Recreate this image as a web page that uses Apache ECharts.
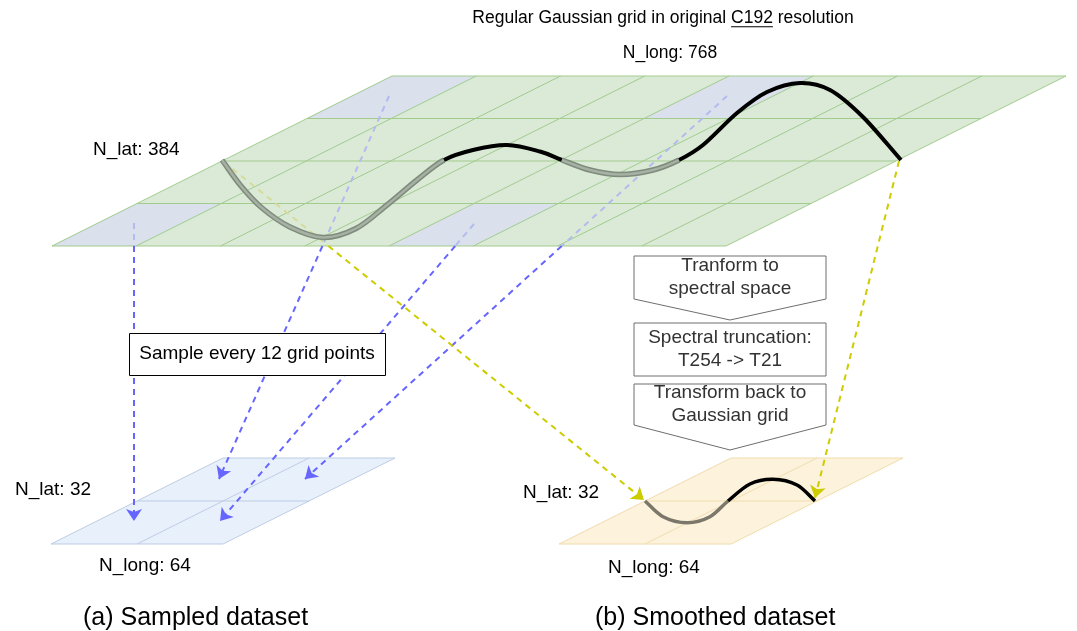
<!DOCTYPE html>
<html><head><meta charset="utf-8">
<script src="https://cdn.jsdelivr.net/npm/echarts@6/dist/echarts.min.js"></script>
<style>html,body{margin:0;padding:0;background:#fff}#c{width:1077px;height:631px}</style>
</head><body><div id="c"></div>
<script>
// ---------------- data ----------------
// curve on the original grid; break indices = where it crosses the middle grid line
const bigCurve = [[222,160],[241,186],[262,208],[290,227],[323,237.5],[356,228.5],[387,205],[417,180],[444,160],
  [473,150],[507,145],[540,151.5],[562,160],
  [590,170],[620,174.5],[653,170],[679,160],
  [703,145],[737,113],[767,92],[800,83],[830,90],[863,117],[901,160]];
const bigCurveBreaks = [0, 8, 12, 16, 23];
// curve on the smoothed grid
const smallCurve = [[645,501],[663,516.7],[687,522.7],[710,516.7],[728,501],[750,484],[773,479.3],[797,485],[815,501]];
const smallCurveBreaks = [0, 4, 8];
// arrows: [from, to]
const blueArrows = [[[134,223],[134,521]], [[389,96],[219,479]], [[474,224],[220,521]], [[727,96],[305,479]]];
const yellowArrows = [[[224,162],[644,500]], [[899,161],[815,498]]];
// highlighted (sampled) cells of the original grid: [row from top, column]
const blueCells = [[0,0],[0,4],[3,0],[3,4]];
// processing steps
const flowSteps = ['Tranform to\nspectral space', 'Spectral truncation:\nT254 -> T21', 'Transform back to\nGaussian grid'];
const sampleNote = 'Sample every 12 grid points';
const labelTexts = ['Regular Gaussian grid in original C192 resolution', 'N_long: 768', 'N_lat: 384',
  'N_lat: 32', 'N_long: 64', '(a) Sampled dataset', 'N_lat: 32', 'N_long: 64', '(b) Smoothed dataset'];
const underlinedWord = 'C192';

// ---------------- layout ----------------
const bigGrid = {x0:52, y0:246, w:674, h:170, slant:340, cols:8, rows:4,
  fill:'#dbead6', line:'#a2cb8e', cell:'#dae0ec'};
const gridA = {x0:51, y0:544, w:172, h:86, slant:172, cols:2, rows:2, fill:'#e8f0fb', line:'#bccde4'};
const gridB = {x0:559, y0:544, w:172, h:86, slant:172, cols:2, rows:2, fill:'#fdf3dc', line:'#f0dcae'};
const flowShapes = [[634,256,826,299,320],[634,323,826,376,376],[634,384,826,425,450]];
const sampleBox = [129,333,385,375];
const labelAnchors = [[663,18],[670,53],[93,150],[15,490],[99,566],[83,618],[523,493],[608,568],[595,618]];
const labelAligns = ['center','center','left','left','left','left','left','left','left'];
const labelSizes = [17.5,17.5,19,19,19,25,19,19,25];
const FONT = '"Liberation Sans", Arial, Helvetica, sans-serif';

function gridPt(g,u,v){ return [g.x0 + u*g.w/g.cols + v/g.rows*g.slant, g.y0 - v/g.rows*g.h]; }
function insideGrid(g,p){
  if (p[1] > g.y0 || p[1] < g.y0 - g.h) return false;
  const v = (g.y0 - p[1]) / g.h;
  const left = g.x0 + v*g.slant;
  return p[0] >= left && p[0] <= left + g.w;
}
function exitPoint(g,a,b){
  if (!insideGrid(g,a)) return null;
  let lo=0, hi=1;
  for (let k=0;k<40;k++){ const m=(lo+hi)/2; const p=[a[0]+(b[0]-a[0])*m, a[1]+(b[1]-a[1])*m]; if (insideGrid(g,p)) lo=m; else hi=m; }
  return [a[0]+(b[0]-a[0])*lo, a[1]+(b[1]-a[1])*lo];
}

function gridSeries(g, cells){
  return {
    type:'custom', silent:true, animation:false, clip:false, data:[[0,0]],
    renderItem(params, api){
      const C = p => api.coord(p);
      const ch = [];
      const corners = [gridPt(g,0,0),gridPt(g,g.cols,0),gridPt(g,g.cols,g.rows),gridPt(g,0,g.rows)].map(C);
      ch.push({type:'polygon', shape:{points:corners}, style:{fill:g.fill}});
      (cells||[]).forEach(([r,c])=>{
        const vb = g.rows-1-r, vt = g.rows-r;
        const pts = [gridPt(g,c,vb),gridPt(g,c+1,vb),gridPt(g,c+1,vt),gridPt(g,c,vt)].map(C);
        ch.push({type:'polygon', shape:{points:pts}, style:{fill:g.cell}});
      });
      for (let u=1; u<g.cols; u++){ const a=C(gridPt(g,u,0)), b=C(gridPt(g,u,g.rows));
        ch.push({type:'line', shape:{x1:a[0],y1:a[1],x2:b[0],y2:b[1]}, style:{stroke:g.line, lineWidth:1}}); }
      for (let v=1; v<g.rows; v++){ const a=C(gridPt(g,0,v)), b=C(gridPt(g,g.cols,v));
        ch.push({type:'line', shape:{x1:a[0],y1:a[1],x2:b[0],y2:b[1]}, style:{stroke:g.line, lineWidth:1}}); }
      ch.push({type:'polygon', shape:{points:corners}, style:{fill:null, stroke:g.line, lineWidth:1}});
      return {type:'group', children:ch};
    }
  };
}

function arrowSeries(list, vivid, faint){
  const faintData = [], vividData = [];
  list.forEach(([a,b])=>{
    const e = exitPoint(bigGrid,a,b);
    if (e){ faintData.push({coords:[a,e]}); vividData.push({coords:[e,b]}); }
    else vividData.push({coords:[a,b]});
  });
  return [
    {type:'lines', coordinateSystem:'cartesian2d', silent:true, animation:false, symbol:['none','none'],
      lineStyle:{color:faint, width:2, type:[6,5], opacity:1}, data:faintData},
    {type:'lines', coordinateSystem:'cartesian2d', silent:true, animation:false, symbol:['none','arrow'], symbolSize:12,
      lineStyle:{color:vivid, width:2, type:[6,5], opacity:1}, data:vividData}
  ];
}

// smooth curve through the read points (Catmull-Rom -> cubic Bezier, in pixel space),
// split into alternating "behind the grid" (grey) and "in front" (black) parts
function curveSeries(pts, breaks, styles){
  return {
    type:'custom', silent:true, animation:false, clip:false, data:[[0,0]],
    renderItem(params, api){
      const P = pts.map(p=>api.coord(p));
      const n = P.length;
      const T = P.map((p,i)=>{
        const a = P[Math.max(0,i-1)], b = P[Math.min(n-1,i+1)];
        const f = (i===0||i===n-1) ? 1 : 0.5;
        return [(b[0]-a[0])*f, (b[1]-a[1])*f];
      });
      const ch = [];
      for (let k=0;k<breaks.length-1;k++){
        let d = 'M'+P[breaks[k]][0]+' '+P[breaks[k]][1];
        for (let i=breaks[k]; i<breaks[k+1]; i++){
          const c1=[P[i][0]+T[i][0]/3, P[i][1]+T[i][1]/3];
          const c2=[P[i+1][0]-T[i+1][0]/3, P[i+1][1]-T[i+1][1]/3];
          d += ' C'+c1[0]+' '+c1[1]+' '+c2[0]+' '+c2[1]+' '+P[i+1][0]+' '+P[i+1][1];
        }
        styles[k%2].forEach(st=>{
          ch.push({type:'path', shape:{pathData:d}, style:{fill:null, stroke:st.color, lineWidth:st.width, lineCap:'butt', lineJoin:'round'}});
        });
      }
      return {type:'group', children:ch};
    }
  };
}

const measureCtx = document.createElement('canvas').getContext('2d');

const series = [
  gridSeries(bigGrid, blueCells),
  gridSeries(gridA),
  gridSeries(gridB),
  ...arrowSeries(blueArrows, '#6666ff', '#b3bbef'),
  ...arrowSeries(yellowArrows, '#cccc00', '#d6db9c'),
  curveSeries(bigCurve, bigCurveBreaks, [
    [{color:'#7e8b7d', width:5.5},{color:'#a6b1a4', width:2.5}],
    [{color:'#000000', width:4}]
  ]),
  curveSeries(smallCurve, smallCurveBreaks, [
    [{color:'#7b776a', width:3.5}],
    [{color:'#000000', width:3.5}]
  ]),
  {type:'custom', silent:true, animation:false, clip:false, data:flowSteps.map((s,i)=>[i,0]),
    renderItem(params, api){
      const i = params.dataIndex, s = flowShapes[i];
      const C = p => api.coord(p);
      const mid = (s[0]+s[2])/2;
      const pts = [[s[0],s[1]],[s[2],s[1]],[s[2],s[3]],[mid,s[4]],[s[0],s[3]]].map(C);
      const tc = C([mid,(s[1]+s[3])/2]);
      return {type:'group', children:[
        {type:'polygon', shape:{points:pts}, style:{fill:'#ffffff', stroke:'#6e6e6e', lineWidth:1}},
        {type:'text', x:tc[0], y:tc[1], style:{text:flowSteps[i], font:'19px '+FONT, fill:'#333333',
          align:'center', verticalAlign:'middle', lineHeight:23}}
      ]};
    }},
  {type:'custom', silent:true, animation:false, clip:false, data:[[0,0]],
    renderItem(params, api){
      const a = api.coord([sampleBox[0],sampleBox[1]]), b = api.coord([sampleBox[2],sampleBox[3]]);
      return {type:'group', children:[
        {type:'rect', shape:{x:a[0]+0.5,y:a[1]+0.5,width:b[0]-a[0],height:b[1]-a[1]}, style:{fill:'#fff', stroke:'#000', lineWidth:1}},
        {type:'text', x:(a[0]+b[0])/2, y:(a[1]+b[1])/2, style:{text:sampleNote, font:'19px '+FONT, fill:'#000',
          align:'center', verticalAlign:'middle'}}
      ]};
    }},
  {type:'custom', silent:true, animation:false, clip:false, data:labelTexts.map((t,i)=>[i,0]),
    renderItem(params, api){
      const i = params.dataIndex;
      const p = api.coord(labelAnchors[i]);
      const font = labelSizes[i]+'px '+FONT;
      const ch = [{type:'text', x:p[0], y:p[1], style:{text:labelTexts[i], font, fill:'#000',
        align:labelAligns[i], verticalAlign:'middle'}}];
      const idx = labelTexts[i].indexOf(underlinedWord);
      if (i===0 && idx>=0){
        measureCtx.font = font;
        const total = measureCtx.measureText(labelTexts[i]).width;
        const pre = measureCtx.measureText(labelTexts[i].slice(0,idx)).width;
        const w = measureCtx.measureText(underlinedWord).width;
        const x0 = p[0] - total/2 + pre;
        const yU = p[1] + labelSizes[i]*0.5;
        ch.push({type:'line', shape:{x1:x0,y1:yU,x2:x0+w,y2:yU}, style:{stroke:'#000', lineWidth:1.2}});
      }
      return {type:'group', children:ch};
    }}
];

const chart = echarts.init(document.getElementById('c'), null, {renderer:'canvas'});
chart.setOption({
  animation:false,
  backgroundColor:'#ffffff',
  grid:{left:0,right:0,top:0,bottom:0},
  xAxis:{type:'value', min:0, max:1077, show:false},
  yAxis:{type:'value', min:0, max:631, inverse:true, show:false},
  series
});
</script></body></html>
